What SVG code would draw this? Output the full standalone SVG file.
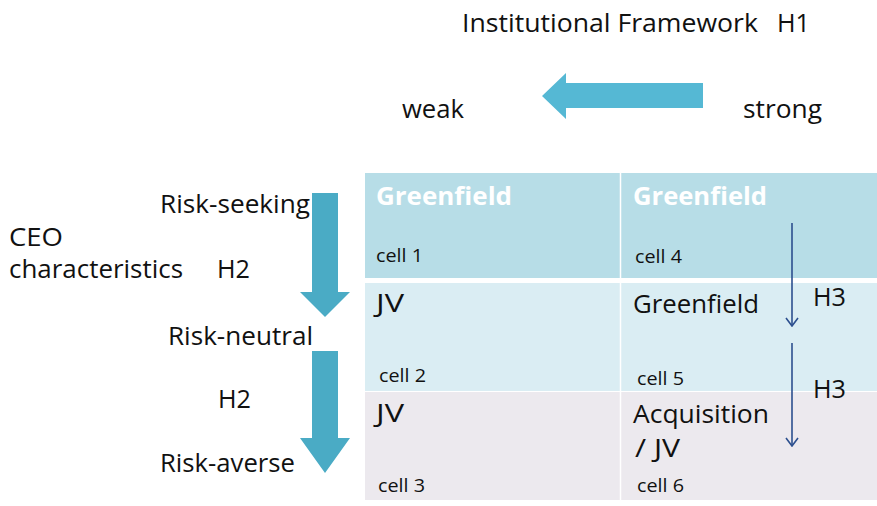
<svg xmlns="http://www.w3.org/2000/svg" width="877" height="506" viewBox="0 0 877 506">
<defs>
<style>
text{font-family:"Open Sans","Noto Sans","Liberation Sans",sans-serif;fill:#111;}
.lg{font-size:25.5px;}
.sm{font-size:18px;}
.bw{font-size:25px;font-weight:bold;fill:#ffffff;}
.blk{fill:#4aabc5;}
.thin{stroke:#2c4f8e;stroke-width:1.6;fill:none;}
</style>
<marker id="open" viewBox="0 0 10 14" markerWidth="10" markerHeight="14" refX="9" refY="7" orient="auto" markerUnits="userSpaceOnUse">
<path d="M1,1 L9,7 L1,13" fill="none" stroke="#2c4f8e" stroke-width="1.6"/>
</marker>
</defs>
<rect width="877" height="506" fill="#ffffff"/>

<g id="title">
<text class="lg" x="462" y="32" textLength="296" lengthAdjust="spacingAndGlyphs">Institutional Framework</text>
<text class="lg" x="777" y="32" textLength="33" lengthAdjust="spacingAndGlyphs">H1</text>
</g>
<g id="weak"><text class="lg" x="402" y="118" textLength="62" lengthAdjust="spacingAndGlyphs">weak</text></g>
<g id="strong"><text class="lg" x="743" y="118" textLength="79" lengthAdjust="spacingAndGlyphs">strong</text></g>

<g id="ceo">
<text class="lg" x="9" y="246" textLength="54" lengthAdjust="spacingAndGlyphs">CEO</text>
<text class="lg" x="9" y="278" textLength="174" lengthAdjust="spacingAndGlyphs">characteristics</text>
</g>
<g id="h2a"><text class="lg" x="217" y="278" textLength="33" lengthAdjust="spacingAndGlyphs">H2</text></g>
<g id="h2b"><text class="lg" x="218" y="408" textLength="33" lengthAdjust="spacingAndGlyphs">H2</text></g>
<g id="risk-seeking"><text class="lg" x="160" y="213" textLength="150" lengthAdjust="spacingAndGlyphs">Risk-seeking</text></g>
<g id="risk-neutral"><text class="lg" x="168" y="345" textLength="145" lengthAdjust="spacingAndGlyphs">Risk-neutral</text></g>
<g id="risk-averse"><text class="lg" x="160" y="472" textLength="135" lengthAdjust="spacingAndGlyphs">Risk-averse</text></g>

<g id="table">
<rect x="365" y="173" width="512" height="105" fill="#b7dde7"/>
<rect x="365" y="283" width="512" height="108" fill="#daedf3"/>
<rect x="365" y="392" width="512" height="108" fill="#ece9ee"/>
<line x1="620.5" y1="173" x2="620.5" y2="500" stroke="#ffffff" stroke-width="1.5"/>
</g>

<g id="cell1">
<text class="bw" x="376" y="205" textLength="136" lengthAdjust="spacingAndGlyphs">Greenfield</text>
<text class="sm" x="376" y="262" textLength="47" lengthAdjust="spacingAndGlyphs">cell 1</text>
</g>
<g id="cell4">
<text class="bw" x="633" y="205" textLength="134" lengthAdjust="spacingAndGlyphs">Greenfield</text>
<text class="sm" x="635" y="263" textLength="47" lengthAdjust="spacingAndGlyphs">cell 4</text>
</g>
<g id="cell2">
<text class="lg" x="376" y="312" textLength="28" lengthAdjust="spacingAndGlyphs">JV</text>
<text class="sm" x="379" y="382" textLength="47" lengthAdjust="spacingAndGlyphs">cell 2</text>
</g>
<g id="cell5">
<text class="lg" x="633" y="313" textLength="126" lengthAdjust="spacingAndGlyphs">Greenfield</text>
<text class="sm" x="637" y="385" textLength="47" lengthAdjust="spacingAndGlyphs">cell 5</text>
</g>
<g id="cell3">
<text class="lg" x="376" y="422" textLength="28" lengthAdjust="spacingAndGlyphs">JV</text>
<text class="sm" x="378" y="492" textLength="47" lengthAdjust="spacingAndGlyphs">cell 3</text>
</g>
<g id="cell6">
<text class="lg" x="633" y="423" textLength="136" lengthAdjust="spacingAndGlyphs">Acquisition</text>
<text class="lg" x="635" y="457" textLength="45" lengthAdjust="spacingAndGlyphs">/ JV</text>
<text class="sm" x="637" y="492" textLength="47" lengthAdjust="spacingAndGlyphs">cell 6</text>
</g>
<g id="h3a"><text class="lg" x="813" y="306" textLength="33" lengthAdjust="spacingAndGlyphs">H3</text></g>
<g id="h3b"><text class="lg" x="813" y="398" textLength="33" lengthAdjust="spacingAndGlyphs">H3</text></g>

<g id="connectors">
<polygon fill="#55b8d4" points="703,83 566,83 566,73 542,96 566,119 566,108 703,108"/>
<polygon class="blk" points="312,193 338,193 338,292 350,292 325,317 300,292 312,292"/>
<polygon class="blk" points="312,351 338,351 338,438 350,438 325,473 300,438 312,438"/>
<line class="thin" x1="792" y1="223" x2="792" y2="326" marker-end="url(#open)"/>
<line class="thin" x1="792" y1="343" x2="792" y2="446" marker-end="url(#open)"/>
</g>
</svg>
